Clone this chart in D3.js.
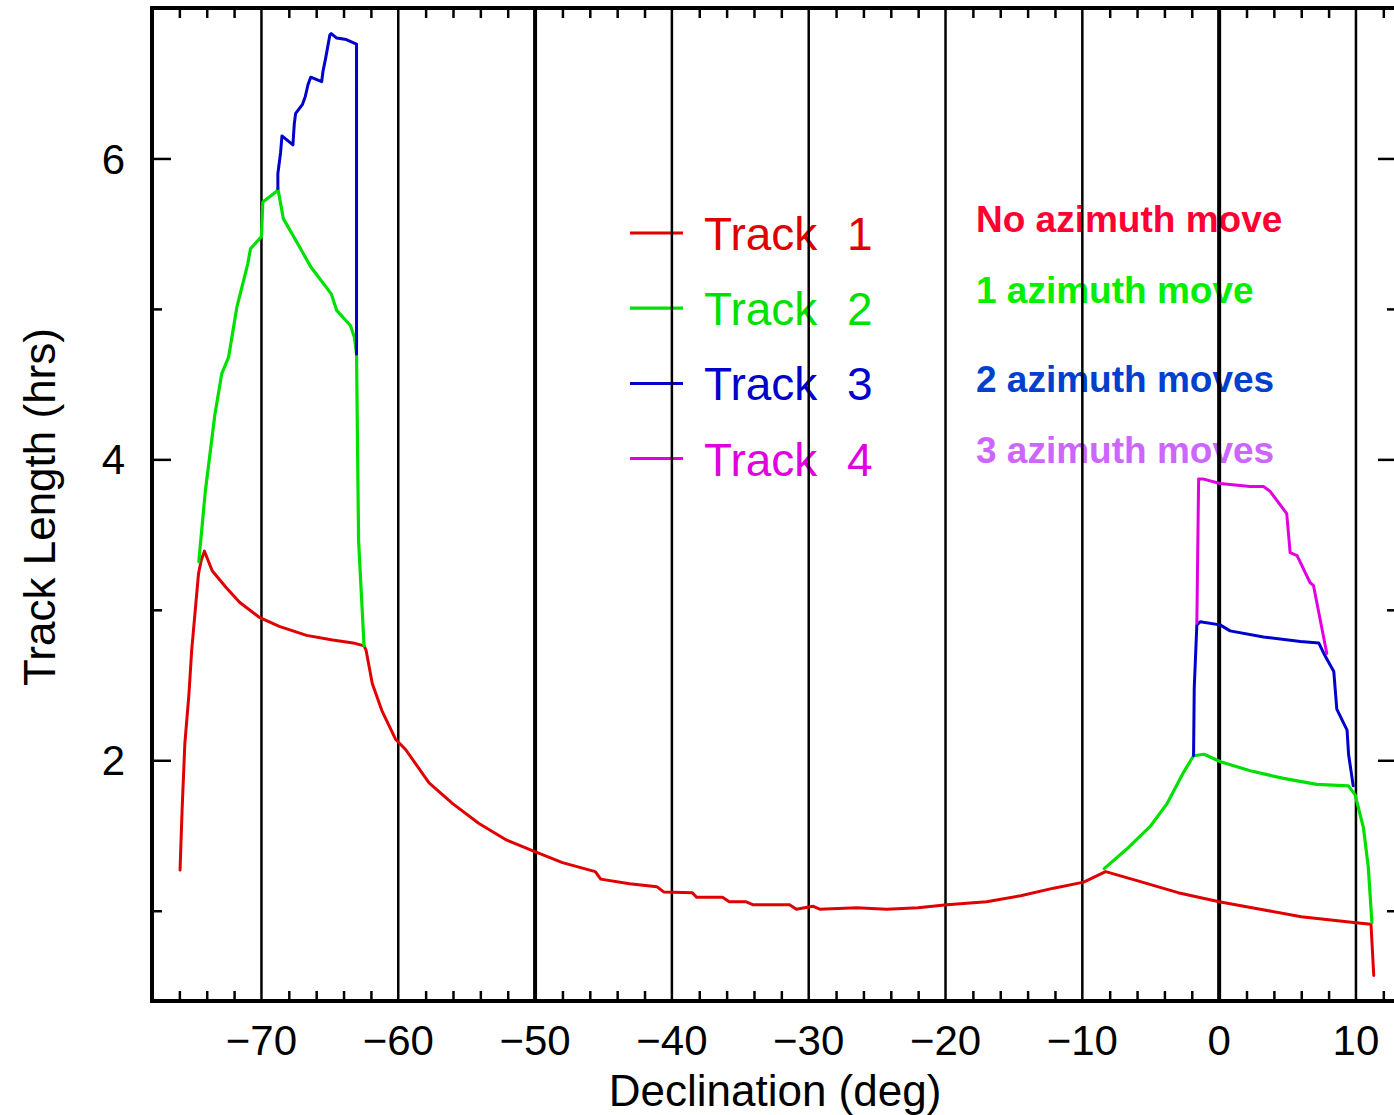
<!DOCTYPE html>
<html>
<head>
<meta charset="utf-8">
<script src="https://cdn.jsdelivr.net/npm/d3@7"></script>
<style>
  html, body { margin: 0; padding: 0; background: #ffffff; }
  svg { display: block; }
</style>
</head>
<body>
<svg id="chart" width="1394" height="1115"></svg>
<script>
// ---------------- data ----------------
const xMajorTicks = [-70, -60, -50, -40, -30, -20, -10, 0, 10];
const xMinorTicks = [-76, -74, -72, -68, -66, -64, -62, -58, -56, -54, -52, -48, -46, -44, -42,
  -38, -36, -34, -32, -28, -26, -24, -22, -18, -16, -14, -12, -8, -6, -4, -2, 2, 4, 6, 8, 12];
const yMajorTicks = [2, 4, 6];
const yMinorTicks = [1, 3, 5];
const xTickLabels = ["\u221270", "\u221260", "\u221250", "\u221240", "\u221230", "\u221220", "\u221210", "0", "10"];
const yTickLabels = ["2", "4", "6"];
const thickGridLines = [-50, 0];

// Track 1: no azimuth move  [declination (deg), track length (hrs)]
const track1 = [
  [-75.95, 1.27], [-75.8, 1.67], [-75.6, 2.11], [-75.3, 2.44], [-75.1, 2.73], [-74.6, 3.24],
  [-74.4, 3.33], [-74.17, 3.39], [-73.6, 3.26], [-72.6, 3.15], [-71.6, 3.05], [-70.15, 2.95],
  [-68.7, 2.89], [-66.7, 2.83], [-64.8, 2.80], [-63.3, 2.78], [-62.5, 2.76], [-62.35, 2.73],
  [-61.9, 2.51], [-61.2, 2.33], [-60.2, 2.14], [-59.45, 2.07], [-57.75, 1.85], [-56.0, 1.71],
  [-54.1, 1.58], [-52.1, 1.47], [-50.2, 1.40], [-48.0, 1.32], [-45.6, 1.26], [-45.2, 1.21],
  [-43.1, 1.18], [-41.1, 1.16], [-40.6, 1.125], [-38.5, 1.12], [-38.2, 1.09], [-36.3, 1.09],
  [-35.8, 1.06], [-34.6, 1.06], [-34.1, 1.04], [-31.4, 1.04], [-30.9, 1.01], [-29.7, 1.03],
  [-29.2, 1.01], [-26.5, 1.02], [-24.3, 1.01], [-22.0, 1.02], [-19.9, 1.04], [-17.0, 1.06],
  [-14.5, 1.10], [-12.1, 1.15], [-9.9, 1.19], [-8.3, 1.26], [-6.0, 1.20], [-3.0, 1.12],
  [0.0, 1.06], [3.0, 1.01], [6.0, 0.96], [10.0, 0.92], [11.1, 0.91], [11.3, 0.57]
];
// Track 2: 1 azimuth move
const track2Left = [
  [-74.58, 3.32], [-74.1, 3.79], [-73.4, 4.30], [-72.9, 4.57], [-72.4, 4.68], [-71.8, 5.01],
  [-71.0, 5.30], [-70.8, 5.40], [-70.0, 5.48], [-69.9, 5.71], [-68.9, 5.78], [-68.8, 5.80],
  [-68.4, 5.60], [-67.2, 5.41], [-66.4, 5.28], [-64.9, 5.10], [-64.5, 4.99], [-63.5, 4.89],
  [-63.2, 4.81], [-63.05, 4.70], [-62.9, 3.46], [-62.5, 2.76]
];
const track2Right = [
  [-8.4, 1.28], [-6.75, 1.41], [-5.04, 1.56], [-3.82, 1.71], [-2.6, 1.92], [-1.87, 2.03],
  [-1.1, 2.04], [0.1, 1.99], [2.27, 1.93], [4.7, 1.88], [7.14, 1.84], [9.45, 1.83],
  [9.94, 1.77], [10.55, 1.55], [10.9, 1.29], [11.17, 0.92]
];
// Track 3: 2 azimuth moves
const track3Left = [
  [-68.8, 5.80], [-68.8, 5.90], [-68.6, 6.04], [-68.5, 6.15], [-67.7, 6.09], [-67.6, 6.23],
  [-67.5, 6.30], [-67.0, 6.36], [-66.8, 6.41], [-66.6, 6.49], [-66.4, 6.54], [-65.6, 6.51],
  [-65.5, 6.58], [-65.3, 6.67], [-65.0, 6.82], [-64.9, 6.83], [-64.5, 6.80], [-63.8, 6.79],
  [-63.3, 6.77], [-63.05, 6.76], [-63.05, 4.70]
];
const track3Right = [
  [-1.87, 2.03], [-1.82, 2.48], [-1.63, 2.90], [-1.39, 2.92], [0.07, 2.90], [0.8, 2.86],
  [3.24, 2.82], [5.94, 2.79], [7.28, 2.78], [7.65, 2.71], [8.38, 2.59], [8.6, 2.34],
  [9.35, 2.20], [9.46, 2.04], [9.8, 1.83]
];
// Track 4: 3 azimuth moves
const track4Right = [
  [-1.63, 2.91], [-1.5, 3.87], [-1.2, 3.87], [0.07, 3.84], [2.27, 3.82], [3.24, 3.82],
  [3.7, 3.79], [4.94, 3.64], [5.19, 3.38], [5.7, 3.36], [6.65, 3.18], [6.9, 3.16], [7.87, 2.71]
];

const legendNames = ["Track", "Track", "Track", "Track"];
const legendNumbers = ["1", "2", "3", "4"];
const trackColors = ["#e00000", "#00e000", "#0000cc", "#e000e0"];
const trackWidths = [3, 3.2, 3, 3];
const noteTexts = ["No azimuth move", "1 azimuth move", "2 azimuth moves", "3 azimuth moves"];
const noteColors = ["#ff0033", "#00f000", "#0040cc", "#cc66ff"];
const xTitle = "Declination (deg)";
const yTitle = "Track Length (hrs)";

// ---------------- chart ----------------
const svg = d3.select("#chart");
const plotLeft = 152, plotRight = 1397, plotTop = 8, plotBottom = 1001;
const x = d3.scaleLinear().domain([-78, 13]).range([plotLeft, plotRight]);
const y = d3.scaleLinear().domain([0.4, 7.0]).range([plotBottom, plotTop]);
const font = "'Liberation Sans', Arial, sans-serif";

// legend (text first so grid lines pass over it, as in the reference)
const legend = svg.append("g");
legendNames.forEach((name, i) => {
  const ly = 233 + i * 75.2;
  legend.append("line").attr("x1", 630).attr("x2", 683).attr("y1", ly).attr("y2", ly)
    .attr("stroke", trackColors[i]).attr("stroke-width", trackWidths[i]);
  legend.append("text").attr("x", 704).attr("y", ly + 17)
    .attr("font-family", font).attr("font-size", 46).attr("fill", trackColors[i]).text(name);
  legend.append("text").attr("x", 847).attr("y", ly + 17)
    .attr("font-family", font).attr("font-size", 46).attr("fill", trackColors[i]).text(legendNumbers[i]);
});

// annotations
const noteY = [232, 303, 392, 463];
noteTexts.forEach((t, i) => {
  svg.append("text").attr("x", 976).attr("y", noteY[i])
    .attr("font-family", font).attr("font-weight", "bold").attr("font-size", 37)
    .attr("fill", noteColors[i]).text(t);
});

// vertical grid lines
svg.append("g").selectAll("line").data(xMajorTicks).join("line")
  .attr("x1", d => x(d)).attr("x2", d => x(d)).attr("y1", plotTop).attr("y2", plotBottom)
  .attr("stroke", "#000").attr("stroke-width", d => thickGridLines.includes(d) ? 4 : 2.5);

// x axes (bottom and top) built with d3 axes, minor ticks inward
const xMinorBottom = d3.axisTop(x).tickValues(xMinorTicks).tickSize(10).tickFormat("");
const xMinorTop = d3.axisBottom(x).tickValues(xMinorTicks).tickSize(10).tickFormat("");
svg.append("g").attr("transform", `translate(0,${plotBottom})`).call(xMinorBottom);
svg.append("g").attr("transform", `translate(0,${plotTop})`).call(xMinorTop);

// y axes (left and right), ticks inward
const yMajorLeft = d3.axisRight(y).tickValues(yMajorTicks).tickSize(19).tickFormat("");
const yMinorLeft = d3.axisRight(y).tickValues(yMinorTicks).tickSize(10).tickFormat("");
const yMajorRight = d3.axisLeft(y).tickValues(yMajorTicks).tickSize(19).tickFormat("");
const yMinorRight = d3.axisLeft(y).tickValues(yMinorTicks).tickSize(10).tickFormat("");
svg.append("g").attr("transform", `translate(${plotLeft},0)`).call(yMajorLeft);
svg.append("g").attr("transform", `translate(${plotLeft},0)`).call(yMinorLeft);
svg.append("g").attr("transform", `translate(${plotRight},0)`).call(yMajorRight);
svg.append("g").attr("transform", `translate(${plotRight},0)`).call(yMinorRight);

svg.selectAll(".domain").remove();
svg.selectAll(".tick line").attr("stroke", "#000").attr("stroke-width", 2.5);

// frame
svg.append("rect").attr("x", plotLeft).attr("y", plotTop)
  .attr("width", plotRight - plotLeft).attr("height", plotBottom - plotTop)
  .attr("fill", "none").attr("stroke", "#000").attr("stroke-width", 4);

// tick labels
svg.append("g").selectAll("text").data(xMajorTicks).join("text")
  .attr("x", d => x(d)).attr("y", 1055).attr("text-anchor", "middle")
  .attr("font-family", font).attr("font-size", 42).attr("fill", "#000")
  .text((d, i) => xTickLabels[i]);
svg.append("g").selectAll("text").data(yMajorTicks).join("text")
  .attr("x", 125).attr("y", d => y(d)).attr("dy", "0.36em").attr("text-anchor", "end")
  .attr("font-family", font).attr("font-size", 42).attr("fill", "#000")
  .text((d, i) => yTickLabels[i]);

// axis titles
svg.append("text").attr("x", 775).attr("y", 1106).attr("text-anchor", "middle")
  .attr("font-family", font).attr("font-size", 44).attr("fill", "#000").text(xTitle);
svg.append("text").attr("transform", "translate(55,507) rotate(-90)").attr("text-anchor", "middle")
  .attr("font-family", font).attr("font-size", 44).attr("fill", "#000").text(yTitle);

// tracks
const line = d3.line().x(d => x(d[0])).y(d => y(d[1]));
const segments = [
  { data: track1, k: 0 },
  { data: track2Left, k: 1 }, { data: track2Right, k: 1 },
  { data: track3Left, k: 2 }, { data: track3Right, k: 2 },
  { data: track4Right, k: 3 }
];
svg.append("g").selectAll("path").data(segments).join("path")
  .attr("d", s => line(s.data)).attr("fill", "none")
  .attr("stroke", s => trackColors[s.k]).attr("stroke-width", s => trackWidths[s.k])
  .attr("stroke-linejoin", "round").attr("stroke-linecap", "round");
</script>
</body>
</html>
